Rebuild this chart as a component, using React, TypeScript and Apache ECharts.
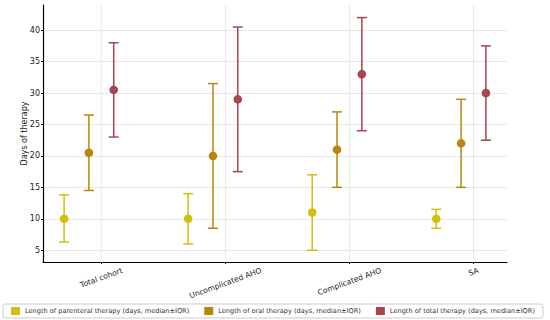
import React, { useEffect, useRef } from 'react';
import * as echarts from 'echarts';

const categories = ['Total cohort', 'Uncomplicated AHO', 'Complicated AHO', 'SA'];
const seriesNames = [
  'Length of parenteral therapy (days, median±IQR)',
  'Length of oral therapy (days, median±IQR)',
  'Length of total therapy (days, median±IQR)',
];
const parenteralMedian = [10, 10, 11, 10];
const parenteralLow = [6.3, 6, 5, 8.5];
const parenteralHigh = [13.8, 14, 17, 11.5];
const oralMedian = [20.5, 20, 21, 22];
const oralLow = [14.5, 8.5, 15, 15];
const oralHigh = [26.5, 31.5, 27, 29];
const totalMedian = [30.5, 29, 33, 30];
const totalLow = [23, 17.5, 24, 22.5];
const totalHigh = [38, 40.5, 42, 37.5];
const yTicks = [5, 10, 15, 20, 25, 30, 35, 40];

const colors = ['#d2bf10', '#b8860b', '#a8464f'];
const FONT = '"DejaVu Sans", sans-serif';
const gridColor = '#e2e2e2';
const Y_MIN = 3.13;
const Y_MAX = 44;

function measure(text: string, size: number) {
  const c = document.createElement('canvas').getContext('2d')!;
  c.font = `${size}px "DejaVu Sans"`;
  return c.measureText(text).width;
}

export default function App() {
  const ref = useRef<HTMLDivElement>(null);
  useEffect(() => {
    document.body.style.margin = '0';
    const chart = echarts.init(ref.current!, null, { renderer: 'svg' });
    const groups = [
      [parenteralMedian, parenteralLow, parenteralHigh],
      [oralMedian, oralLow, oralHigh],
      [totalMedian, totalLow, totalHigh],
    ];
    const errSeries = groups.map((g, si) => {
      const offset = (si - 1.5) * 0.2;
      const color = colors[si];
      return {
        type: 'custom',
        name: seriesNames[si],
        z: 3,
        itemStyle: { color },
        encode: { x: 0, y: [1, 2, 3] },
        data: categories.map((_, ci) => [ci, g[0][ci], g[1][ci], g[2][ci]]),
        renderItem: (params: any, api: any) => {
          const x = api.value(0) + offset;
          const pm = api.coord([x, api.value(1)]);
          const pl = api.coord([x, api.value(2)]);
          const ph = api.coord([x, api.value(3)]);
          const cw = 5;
          const st = { stroke: color, lineWidth: 1.5 };
          return {
            type: 'group',
            children: [
              { type: 'line', shape: { x1: pl[0], y1: pl[1], x2: ph[0], y2: ph[1] }, style: st },
              { type: 'line', shape: { x1: ph[0] - cw, y1: ph[1], x2: ph[0] + cw, y2: ph[1] }, style: st },
              { type: 'line', shape: { x1: pl[0] - cw, y1: pl[1], x2: pl[0] + cw, y2: pl[1] }, style: st },
              { type: 'circle', shape: { cx: pm[0], cy: pm[1], r: 4.3 }, style: { fill: color } },
            ],
          };
        },
      };
    });
    const labelSize = 7.6;
    const rot = (20 * Math.PI) / 180;
    const labelSeries = {
      type: 'custom',
      silent: true,
      clip: false,
      z: 1,
      encode: { x: 0, y: 1 },
      data: categories.map((_, ci) => [ci, Y_MIN]),
      renderItem: (params: any, api: any) => {
        const ci = api.value(0);
        const p = api.coord([ci, Y_MIN]);
        const pt = api.coord([ci, Y_MAX]);
        const text = categories[ci];
        const L = measure(text, labelSize);
        const h = labelSize * 1.15;
        const H = L * Math.sin(rot) + h * Math.cos(rot);
        return {
          type: 'group',
          children: [
            {
              type: 'line',
              shape: { x1: p[0], y1: p[1], x2: pt[0], y2: pt[1] },
              style: { stroke: gridColor, lineWidth: 0.8 },
            },
            {
              type: 'text',
              x: p[0],
              y: p[1] + 4 + H / 2,
              rotation: rot,
              style: {
                text,
                x: 0,
                y: 0,
                align: 'center',
                verticalAlign: 'middle',
                fontSize: labelSize,
                fontFamily: FONT,
                fill: '#222',
              },
            },
          ],
        };
      },
    };
    chart.setOption({
      animation: false,
      grid: { left: 43, right: 43, top: 5, bottom: 58, containLabel: false },
      xAxis: {
        type: 'value',
        min: -0.47,
        max: 3.27,
        axisLine: { show: true, onZero: false, lineStyle: { color: '#000', width: 1.2 } },
        axisTick: { show: true, length: 2, customValues: [0, 1, 2, 3], lineStyle: { color: '#000' } },
        axisLabel: { show: false },
        splitLine: { show: false },
      },
      yAxis: {
        type: 'value',
        min: Y_MIN,
        max: Y_MAX,
        name: 'Days of therapy',
        nameLocation: 'middle',
        nameGap: 15,
        nameMoveOverlap: false,
        nameTextStyle: { fontSize: 8, fontFamily: FONT, color: '#222' },
        axisLine: { show: true, onZero: false, lineStyle: { color: '#000', width: 1.2 } },
        axisTick: { show: true, length: 2, customValues: yTicks, lineStyle: { color: '#000' } },
        axisLabel: { customValues: yTicks, fontSize: 8, fontFamily: FONT, color: '#222', margin: 3 },
        splitLine: { show: true, lineStyle: { color: gridColor, width: 0.8 } },
      },
      legend: {
        data: seriesNames,
        left: 3,
        bottom: 2,
        icon: 'rect',
        itemWidth: 9,
        itemHeight: 8,
        itemGap: 15,
        padding: [3, 8],
        borderColor: '#cccccc',
        borderWidth: 1,
        borderRadius: 2,
        textStyle: { fontSize: 6.6, fontFamily: FONT, color: '#333' },
      },
      series: [labelSeries, ...errSeries],
    });
    return () => chart.dispose();
  }, []);
  return <div ref={ref} style={{ width: 550, height: 320 }} />;
}
